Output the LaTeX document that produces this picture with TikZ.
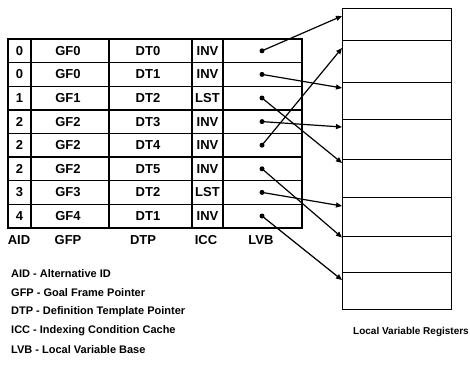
\documentclass[tikz,border=0pt]{standalone}
\usepackage{fontspec}
\setmainfont{Liberation Sans}
\usetikzlibrary{arrows.meta}
\begin{document}
\begin{tikzpicture}[x=1pt,y=-1pt,
 cell/.style={font=\bfseries\fontsize{13}{15}\selectfont, inner sep=0pt, anchor=center},
 lbl/.style={font=\bfseries\fontsize{13}{15}\selectfont, inner sep=0pt},
 legend/.style={font=\bfseries\fontsize{11}{13}\selectfont, inner sep=0pt, anchor=west},
 reg/.style={draw, line width=1.4pt, minimum width=109pt, inner sep=0pt, anchor=north west},
 dot/.style={circle, fill, inner sep=0pt, minimum size=5pt},
 ptr/.style={line width=1.2pt, -{Triangle[length=6pt,width=5pt]}},
 grid/.style={line width=1.7pt}]
\useasboundingbox (0,0) rectangle (470,364);

% table grid
\draw[grid] (8,39) rectangle (302,227.8);
\foreach \x in {31,109,192,223} \draw[grid] (\x,39) -- (\x,227.8);
\foreach \i in {1,...,7} \draw[line width=1.4pt] (8,{39+23.6*\i}) -- (302,{39+23.6*\i});

% table rows
\foreach \i/\a/\g/\d/\c in {1/0/GF0/DT0/INV, 2/0/GF0/DT1/INV, 3/1/GF1/DT2/LST, 4/2/GF2/DT3/INV,
                             5/2/GF2/DT4/INV, 6/2/GF2/DT5/INV, 7/3/GF3/DT2/LST, 8/4/GF4/DT1/INV}{
  \node[cell] (aid\i) at (19.5,{39+23.6*(\i-0.5)}) {\a};
  \node[cell] (gfp\i) at (68,{39+23.6*(\i-0.5)}) {\g};
  \node[cell] (dtp\i) at (148,{39+23.6*(\i-0.5)}) {\d};
  \node[cell] (icc\i) at (207.5,{39+23.6*(\i-0.5)}) {\c};
  \node[dot] (lvb\i) at (262,{39+23.6*(\i-0.5)}) {};
}

% column labels
\node[lbl] (hAID) at (19,240) {AID};
\node[lbl] (hGFP) at (68,240) {GFP};
\node[lbl] (hDTP) at (143,240) {DTP};
\node[lbl] (hICC) at (206,240) {ICC};
\node[lbl] (hLVB) at (261,240) {LVB};

% registers
\node[reg, minimum height=32pt] (r1) at (342,8) {};
\node[reg, minimum height=42pt] (r2) at (342,40) {};
\node[reg, minimum height=37pt] (r3) at (342,82) {};
\node[reg, minimum height=40pt] (r4) at (342,119) {};
\node[reg, minimum height=38pt] (r5) at (342,159) {};
\node[reg, minimum height=39pt] (r6) at (342,197) {};
\node[reg, minimum height=36pt] (r7) at (342,236) {};
\node[reg, minimum height=37pt] (r8) at (342,272) {};

% pointers
\draw[ptr] (lvb1.center) -- ([yshift=-8pt]r1.north west);
\draw[ptr] (lvb2.center) -- ([yshift=-6pt]r3.north west);
\draw[ptr] (lvb3.center) -- ([yshift=-4pt]r5.north west);
\draw[ptr] (lvb4.center) -- ([yshift=-8pt]r4.north west);
\draw[ptr] (lvb5.center) -- ([yshift=-8pt]r2.north west);
\draw[ptr] (lvb6.center) -- ([yshift=-1.5pt]r7.north west);
\draw[ptr] (lvb7.center) -- ([yshift=-9pt]r6.north west);
\draw[ptr] (lvb8.center) -- ([yshift=-8pt]r8.north west);

% legend
\node[legend] (l1) at (11,274) {AID - Alternative ID};
\node[legend] (l2) at (11,293) {GFP - Goal Frame Pointer};
\node[legend] (l3) at (11,312) {DTP - Definition Template Pointer};
\node[legend] (l4) at (11,331) {ICC - Indexing Condition Cache};
\node[legend] (l5) at (11,350) {LVB - Local Variable Base};
\node[legend, anchor=east, font=\bfseries\fontsize{10}{12}\selectfont] (lvr) at (469,332) {Local Variable Registers};
\end{tikzpicture}
\end{document}
